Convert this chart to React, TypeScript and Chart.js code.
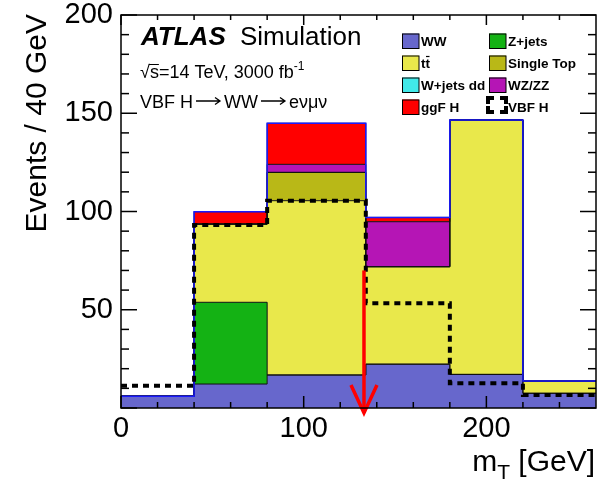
import React, { useEffect, useRef } from 'react';
import { Chart, registerables } from 'chart.js';

Chart.register(...registerables);

// ---- data ----
const BIN_EDGES = [0, 40, 80, 134, 180, 220, 260];
const WW = [6.0, 12.2, 16.8, 22.3, 17.1, 7.5];
const ZJETS = [0, 41.6, 0, 0, 0, 0];
const TTBAR = [0, 39.8, 88.7, 49.6, 129.5, 6.2];
const SINGLE_TOP = [0, 0, 14.4, 0, 0, 0];
const WJETS_DD = [0, 0, 0, 0, 0, 0];
const WZ_ZZ = [0, 0, 4.1, 22.9, 0, 0];
const GGF_H = [0, 6.3, 20.9, 2.2, 0, 0];
const VBF_H = [11.3, 93.1, 105.5, 53.3, 12.6, 6.6];

const X_TICK_LABELS = [0, 100, 200];
const Y_TICK_LABELS = [50, 100, 150, 200];
const X_MAJOR = [0, 100, 200];
const X_MINOR = [20, 40, 60, 80, 120, 140, 160, 180, 220, 240];
const Y_MAJOR = [0, 50, 100, 150, 200];
const Y_MINOR = [10, 20, 30, 40, 60, 70, 80, 90, 110, 120, 130, 140, 160, 170, 180, 190];

const ARROW_X = 133;
const ARROW_TOP = 70;
const ARROW_TIP = -2.5;

const FONT = '"Liberation Sans", Arial, Helvetica, sans-serif';

const STACK = [
  { label: 'WW', values: WW, color: '#6767cc' },
  { label: 'Z+jets', values: ZJETS, color: '#14b214' },
  { label: 'tt', values: TTBAR, color: '#e9e84b' },
  { label: 'Single Top', values: SINGLE_TOP, color: '#b9b817' },
  { label: 'W+jets dd', values: WJETS_DD, color: '#41e9e9' },
  { label: 'WZ/ZZ', values: WZ_ZZ, color: '#b515b5' },
  { label: 'ggF H', values: GGF_H, color: '#ff0000' },
];

const LEGEND_ROWS = [
  ['WW', 'Z+jets'],
  ['tt', 'Single Top'],
  ['W+jets dd', 'WZ/ZZ'],
  ['ggF H', 'VBF H'],
];

function stepPoints(vals: number[]) {
  const pts = vals.map((v, i) => ({ x: BIN_EDGES[i], y: v }));
  pts.push({ x: BIN_EDGES[BIN_EDGES.length - 1], y: vals[vals.length - 1] });
  return pts;
}

function buildDatasets() {
  const ds: any[] = [];
  let cum = WW.map(() => 0);
  STACK.forEach((s, idx) => {
    cum = cum.map((c, i) => c + s.values[i]);
    ds.push({
      label: s.label,
      data: stepPoints(cum),
      stepped: 'before',
      backgroundColor: s.color,
      borderColor: '#111',
      borderWidth: 1,
      fill: idx === 0 ? 'origin' : '-1',
      pointRadius: 0,
      order: 10 + idx,
    });
  });
  ds.push({
    label: 'total',
    data: stepPoints(cum),
    stepped: 'before',
    borderColor: '#1a1aff',
    borderWidth: 1.5,
    fill: false,
    pointRadius: 0,
    order: 1,
  });
  ds.push({
    label: 'VBF H',
    data: stepPoints(VBF_H),
    stepped: 'before',
    borderColor: '#000',
    borderWidth: 4,
    borderDash: [6, 5],
    fill: false,
    pointRadius: 0,
    order: 0,
  });
  return ds;
}

function drawArrowGlyph(ctx: CanvasRenderingContext2D, x0: number, x1: number, y: number) {
  ctx.save();
  ctx.setLineDash([]);
  ctx.strokeStyle = '#000';
  ctx.lineWidth = 1.3;
  ctx.beginPath();
  ctx.moveTo(x0, y);
  ctx.lineTo(x1, y);
  ctx.moveTo(x1 - 5, y - 3.5);
  ctx.lineTo(x1, y);
  ctx.lineTo(x1 - 5, y + 3.5);
  ctx.stroke();
  ctx.restore();
}

const decorPlugin = {
  id: 'decor',
  afterDraw(chart: any) {
    const ctx: CanvasRenderingContext2D = chart.ctx;
    const xs = chart.scales.x;
    const ys = chart.scales.y;
    const a = chart.chartArea;
    ctx.save();
    ctx.setLineDash([]);

    // arrow
    const ax = xs.getPixelForValue(ARROW_X);
    const aTop = ys.getPixelForValue(ARROW_TOP);
    const aTip = ys.getPixelForValue(ARROW_TIP);
    ctx.strokeStyle = '#ff0000';
    ctx.lineWidth = 3.5;
    ctx.beginPath();
    ctx.moveTo(ax, aTop);
    ctx.lineTo(ax, aTip - 2);
    ctx.stroke();
    ctx.beginPath();
    ctx.moveTo(ax - 13, aTip - 28);
    ctx.lineTo(ax, aTip);
    ctx.lineTo(ax + 13, aTip - 28);
    ctx.stroke();

    // frame
    ctx.strokeStyle = '#000';
    ctx.lineWidth = 1.5;
    ctx.strokeRect(a.left, a.top, a.right - a.left, a.bottom - a.top);

    // ticks
    ctx.strokeStyle = '#000000';
    ctx.lineWidth = 1.5;
    Y_MAJOR.forEach((v) => {
      const py = ys.getPixelForValue(v);
      ctx.beginPath();
      ctx.moveTo(a.left, py);
      ctx.lineTo(a.left + 16, py);
      ctx.stroke();
      ctx.beginPath();
      ctx.moveTo(a.right, py);
      ctx.lineTo(a.right - 16, py);
      ctx.stroke();
    });
    Y_MINOR.forEach((v) => {
      const py = ys.getPixelForValue(v);
      ctx.beginPath();
      ctx.moveTo(a.left, py);
      ctx.lineTo(a.left + 8, py);
      ctx.stroke();
      ctx.beginPath();
      ctx.moveTo(a.right, py);
      ctx.lineTo(a.right - 8, py);
      ctx.stroke();
    });
    X_MAJOR.forEach((v) => {
      const px = xs.getPixelForValue(v);
      ctx.beginPath();
      ctx.moveTo(px, a.bottom);
      ctx.lineTo(px, a.bottom - 12);
      ctx.stroke();
      ctx.beginPath();
      ctx.moveTo(px, a.top);
      ctx.lineTo(px, a.top + 10);
      ctx.stroke();
    });
    X_MINOR.forEach((v) => {
      const px = xs.getPixelForValue(v);
      ctx.beginPath();
      ctx.moveTo(px, a.bottom);
      ctx.lineTo(px, a.bottom - 6);
      ctx.stroke();
      ctx.beginPath();
      ctx.moveTo(px, a.top);
      ctx.lineTo(px, a.top + 5);
      ctx.stroke();
    });

    // header texts
    ctx.fillStyle = '#000';
    ctx.textBaseline = 'alphabetic';
    ctx.textAlign = 'left';
    ctx.font = `italic bold 26px ${FONT}`;
    ctx.fillText('ATLAS', 141, 45);
    ctx.font = `26px ${FONT}`;
    ctx.fillText('Simulation', 240, 45);

    ctx.font = `18px ${FONT}`;
    let x = 140;
    ctx.fillText('\u221A', x, 78);
    const wr = ctx.measureText('\u221A').width;
    x += wr;
    ctx.fillText('s', x, 78);
    const ws = ctx.measureText('s').width;
    ctx.strokeStyle = '#000';
    ctx.lineWidth = 1;
    ctx.beginPath();
    ctx.moveTo(x - 1, 64.5);
    ctx.lineTo(x + ws, 64.5);
    ctx.stroke();
    x += ws;
    const main2 = '=14 TeV, 3000 fb';
    ctx.fillText(main2, x, 78);
    x += ctx.measureText(main2).width;
    ctx.font = `12px ${FONT}`;
    ctx.fillText('-1', x, 70);

    ctx.font = `18px ${FONT}`;
    x = 140;
    const parts = ['VBF H', 'WW', 'e\u03BD\u03BC\u03BD'];
    parts.forEach((p, i) => {
      ctx.fillText(p, x, 108);
      x += ctx.measureText(p).width;
      if (i < parts.length - 1) {
        drawArrowGlyph(ctx, x + 3, x + 27, 101);
        x += 31;
      }
    });

    // legend
    const colBox = [402, 489];
    const rowC = [41, 63, 85, 107];
    ctx.font = `bold 13.5px ${FONT}`;
    LEGEND_ROWS.forEach((row, r) => {
      row.forEach((lab, c) => {
        const bx = colBox[c];
        const cy = rowC[r];
        const st = STACK.find((s) => s.label === lab);
        if (st) {
          ctx.fillStyle = st.color;
          ctx.fillRect(bx, cy - 7.5, 17, 15);
          ctx.strokeStyle = '#000';
          ctx.lineWidth = 1;
          ctx.strokeRect(bx + 0.5, cy - 7, 16.5, 14.5);
        } else {
          ctx.strokeStyle = '#000';
          ctx.lineWidth = 4;
          const l = bx - 1, t = cy - 9, rr = bx + 17, b = cy + 5;
          const arm = 6;
          ctx.beginPath();
          ctx.moveTo(l, t + arm); ctx.lineTo(l, t); ctx.lineTo(l + arm, t);
          ctx.moveTo(rr - arm, t); ctx.lineTo(rr, t); ctx.lineTo(rr, t + arm);
          ctx.moveTo(rr, b - arm); ctx.lineTo(rr, b); ctx.lineTo(rr - arm, b);
          ctx.moveTo(l + arm, b); ctx.lineTo(l, b); ctx.lineTo(l, b - arm);
          ctx.stroke();
        }
        ctx.fillStyle = '#000';
        const tx = bx + 19;
        ctx.fillText(lab, tx, cy + 5);
        if (lab === 'tt') {
          const w1 = ctx.measureText('t').width;
          ctx.lineWidth = 1.2;
          ctx.beginPath();
          ctx.moveTo(tx + w1 + 0.5, cy - 6.5);
          ctx.lineTo(tx + 2 * w1 - 0.5, cy - 6.5);
          ctx.stroke();
        }
      });
    });

    // axis titles
    ctx.fillStyle = '#000';
    ctx.font = `30px ${FONT}`;
    ctx.save();
    ctx.translate(46, a.top - 1);
    ctx.rotate(-Math.PI / 2);
    ctx.textAlign = 'right';
    ctx.fillText('Events / 40 GeV', 0, 0);
    ctx.restore();

    const xr = 595;
    const base = 471;
    ctx.textAlign = 'left';
    const tail = ' [GeV]';
    const wTail = ctx.measureText(tail).width;
    const wm = ctx.measureText('m').width;
    ctx.font = `21px ${FONT}`;
    const wT = ctx.measureText('T').width;
    ctx.fillText('T', xr - wTail - wT, base + 8);
    ctx.font = `30px ${FONT}`;
    ctx.fillText(tail, xr - wTail, base);
    ctx.fillText('m', xr - wTail - wT - wm, base);

    ctx.restore();
  },
};

export default function App() {
  const ref = useRef<HTMLCanvasElement>(null);
  useEffect(() => {
    document.body.style.margin = '0';
    const canvas = ref.current;
    if (!canvas) return;
    const chart = new Chart(canvas, {
      type: 'line',
      data: { datasets: buildDatasets() },
      options: {
        animation: false,
        responsive: false,
        devicePixelRatio: 1,
        layout: { padding: { left: 0, right: 10, top: 15, bottom: 0 } },
        plugins: {
          legend: { display: false },
          tooltip: { enabled: false },
          filler: { drawTime: 'beforeDatasetsDraw' },
        } as any,
        elements: { point: { radius: 0 }, line: { tension: 0 } },
        scales: {
          x: {
            type: 'linear',
            min: 0,
            max: 260,
            grid: { display: false, drawTicks: false },
            border: { display: false },
            ticks: {
              font: { family: FONT, size: 29 },
              color: '#000',
              padding: 4,
              maxRotation: 0,
              autoSkip: false,
            },
            afterBuildTicks: (s: any) => {
              s.ticks = X_TICK_LABELS.map((v) => ({ value: v }));
            },
            afterFit: (s: any) => {
              s.height = 75;
              s.paddingLeft = 0;
              s.paddingRight = 0;
              s.paddingTop = 0;
              s.paddingBottom = 0;
            },
          },
          y: {
            type: 'linear',
            min: 0,
            max: 200,
            grid: { display: false, drawTicks: false },
            border: { display: false },
            ticks: {
              font: { family: FONT, size: 29 },
              color: '#000',
              padding: 8,
              autoSkip: false,
            },
            afterBuildTicks: (s: any) => {
              s.ticks = Y_TICK_LABELS.map((v) => ({ value: v }));
            },
            afterFit: (s: any) => {
              s.width = 121;
              s.paddingLeft = 0;
              s.paddingRight = 0;
              s.paddingTop = 0;
              s.paddingBottom = 0;
            },
          },
        },
      } as any,
      plugins: [decorPlugin],
    });
    return () => chart.destroy();
  }, []);
  return (
    <div>
      <canvas ref={ref} width={606} height={483} style={{ display: 'block' }} />
    </div>
  );
}
